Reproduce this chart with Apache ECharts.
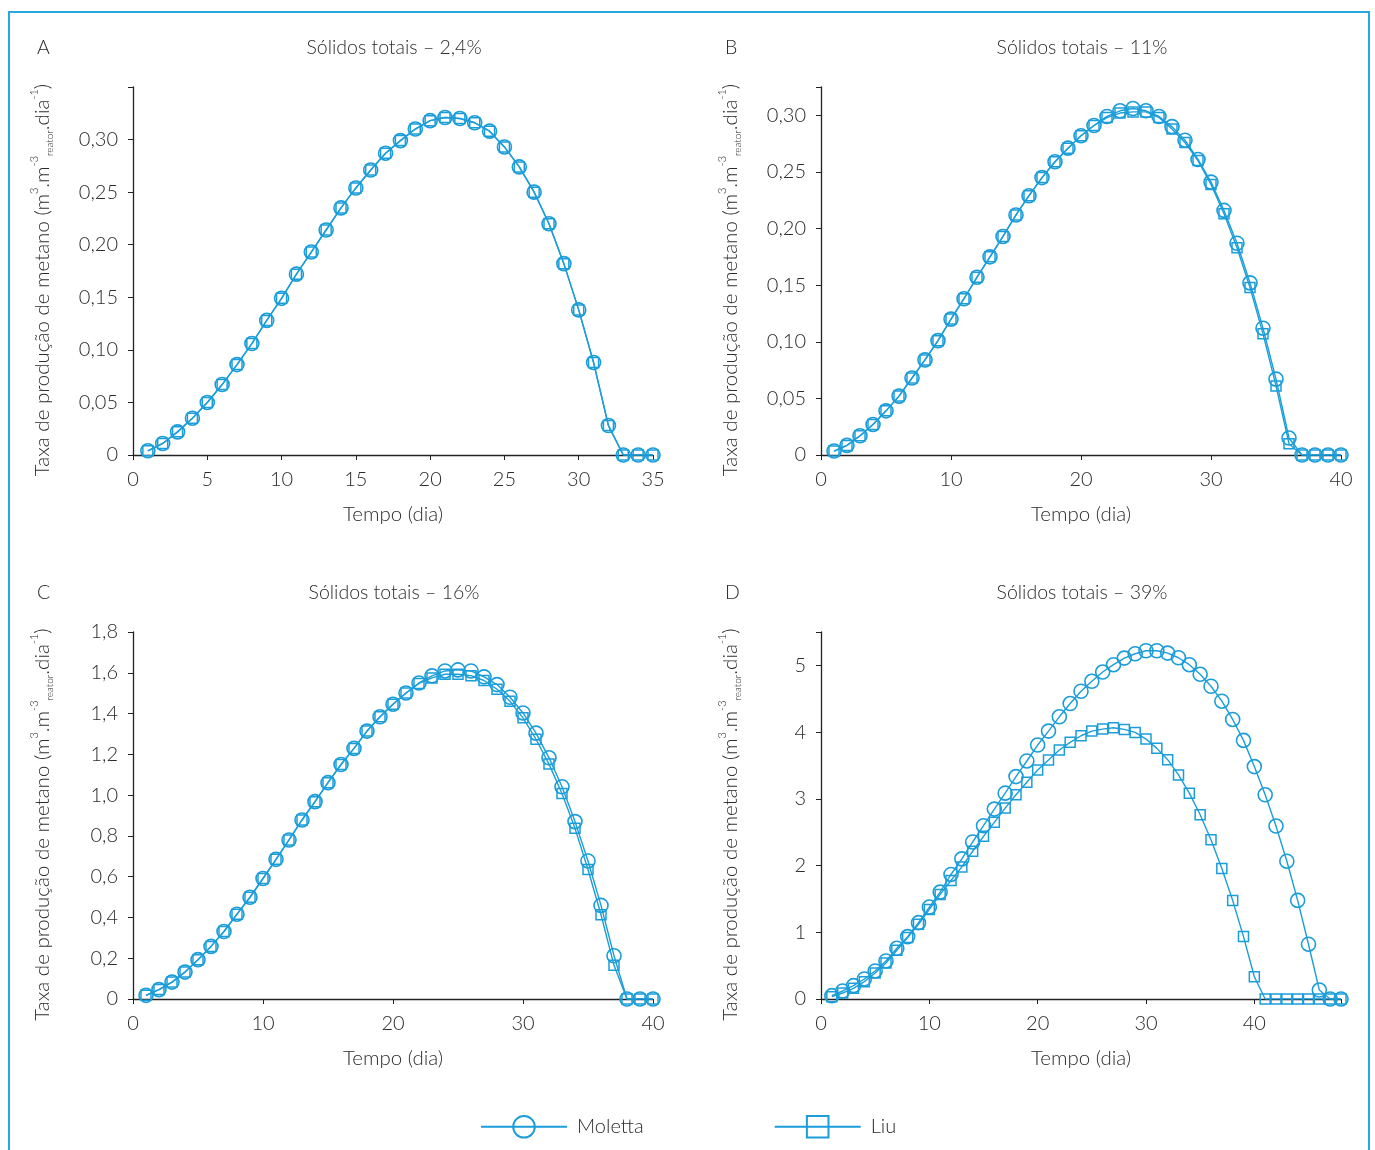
<!DOCTYPE html>
<html>
<head>
<meta charset="utf-8">
<script src="https://cdn.jsdelivr.net/npm/echarts@6/dist/echarts.min.js"></script>
<style>
html,body{margin:0;padding:0;background:#fff;}
#chart{width:1375px;height:1150px;}
</style>
</head>
<body>
<div id="chart"></div>
<script>
// ---------- DATA ----------
const daysA = [1,2,3,4,5,6,7,8,9,10,11,12,13,14,15,16,17,18,19,20,21,22,23,24,25,26,27,28,29,30,31,32,33,34,35];
const molettaA = [0.004,0.011,0.022,0.035,0.050,0.067,0.086,0.106,0.128,0.149,0.172,0.193,0.214,0.235,0.254,0.271,0.287,0.299,0.310,0.318,0.321,0.320,0.316,0.308,0.293,0.274,0.250,0.220,0.182,0.138,0.088,0.028,0,0,0];
const liuA     = [0.004,0.011,0.022,0.035,0.050,0.067,0.086,0.106,0.128,0.149,0.172,0.193,0.214,0.235,0.254,0.271,0.287,0.299,0.310,0.318,0.321,0.320,0.316,0.308,0.293,0.274,0.250,0.220,0.182,0.138,0.088,0.028,0,0,0];

const daysB = [1,2,3,4,5,6,7,8,9,10,11,12,13,14,15,16,17,18,19,20,21,22,23,24,25,26,27,28,29,30,31,32,33,34,35,36,37,38,39,40];
const molettaB = [0.0035,0.0085,0.017,0.027,0.039,0.052,0.068,0.084,0.101,0.120,0.138,0.157,0.175,0.193,0.212,0.229,0.245,0.259,0.271,0.282,0.291,0.299,0.304,0.306,0.304,0.299,0.290,0.278,0.261,0.241,0.216,0.187,0.152,0.112,0.067,0.015,0,0,0,0];
const liuB     = [0.0035,0.0085,0.017,0.027,0.039,0.052,0.068,0.084,0.101,0.120,0.138,0.157,0.175,0.193,0.212,0.229,0.245,0.259,0.271,0.282,0.291,0.298,0.302,0.303,0.303,0.298,0.288,0.276,0.260,0.239,0.213,0.183,0.148,0.107,0.061,0.010,0,0,0,0];

const daysC = [1,2,3,4,5,6,7,8,9,10,11,12,13,14,15,16,17,18,19,20,21,22,23,24,25,26,27,28,29,30,31,32,33,34,35,36,37,38,39,40];
const molettaC = [0.018,0.046,0.083,0.132,0.193,0.258,0.331,0.416,0.499,0.591,0.685,0.780,0.878,0.968,1.061,1.150,1.229,1.314,1.384,1.446,1.501,1.550,1.585,1.609,1.614,1.609,1.580,1.542,1.480,1.403,1.304,1.183,1.041,0.870,0.677,0.459,0.212,0,0,0];
const liuC     = [0.018,0.046,0.083,0.132,0.193,0.258,0.331,0.416,0.499,0.591,0.685,0.780,0.878,0.968,1.061,1.150,1.229,1.314,1.384,1.446,1.501,1.548,1.575,1.593,1.593,1.586,1.562,1.519,1.460,1.379,1.274,1.152,1.008,0.837,0.635,0.413,0.165,0,0,0];

const daysD = [1,2,3,4,5,6,7,8,9,10,11,12,13,14,15,16,17,18,19,20,21,22,23,24,25,26,27,28,29,30,31,32,33,34,35,36,37,38,39,40,41,42,43,44,45,46,47,48];
const molettaD = [0.05,0.12,0.20,0.30,0.42,0.57,0.76,0.935,1.144,1.378,1.602,1.866,2.10,2.353,2.597,2.846,3.085,3.333,3.567,3.806,4.015,4.229,4.428,4.612,4.761,4.90,5.01,5.109,5.174,5.219,5.219,5.184,5.114,5.01,4.866,4.687,4.463,4.189,3.876,3.483,3.06,2.592,2.065,1.478,0.821,0.134,0,0];
const liuD     = [0.035,0.09,0.16,0.26,0.39,0.54,0.73,0.92,1.12,1.343,1.567,1.776,1.98,2.214,2.438,2.647,2.861,3.06,3.249,3.433,3.582,3.731,3.846,3.945,4.015,4.045,4.065,4.04,3.995,3.896,3.756,3.587,3.358,3.085,2.761,2.388,1.955,1.478,0.935,0.333,0,0,0,0,0,0,0,0];

const panelLetters = ['A','B','C','D'];
const panelTitles = ['Sólidos totais – 2,4%','Sólidos totais – 11%','Sólidos totais – 16%','Sólidos totais – 39%'];
const seriesNames = ['Moletta','Liu'];
const xMax = [35,40,40,48];
const xInterval = [5,10,10,10];
const xTicks = [[0,5,10,15,20,25,30,35],[0,10,20,30,40],[0,10,20,30,40],[0,10,20,30,40]];
const yMax = [0.35,0.325,1.8,5.5];
const yInterval = [0.05,0.05,0.2,1];
const yTicks = [[0,0.05,0.10,0.15,0.20,0.25,0.30],[0,0.05,0.10,0.15,0.20,0.25,0.30],[0,0.2,0.4,0.6,0.8,1.0,1.2,1.4,1.6,1.8],[0,1,2,3,4,5]];
const yDecimals = [2,2,1,0];
const xAxisName = 'Tempo (dia)';

// ---------- CHART ----------
const BLUE = '#1b9dd9';
const FONT = 'Lato';
const FW = 300;
const TXT = '#2b2b2b';
const days = [daysA,daysB,daysC,daysD];
const mol = [molettaA,molettaB,molettaC,molettaD];
const liu = [liuA,liuB,liuC,liuD];

const grids = [
  {left:133, top:87, width:520, height:368},
  {left:821, top:87, width:520, height:368},
  {left:133, top:632, width:520, height:367},
  {left:821, top:632, width:520, height:367}
];

function near(v, list){ return list.some(t => Math.abs(t - v) < 1e-6); }

const xAxes = [], yAxes = [], series = [], titles = [];
for (let i = 0; i < 4; i++) {
  const g = grids[i];
  xAxes.push({
    type:'value', gridIndex:i, min:0, max:xMax[i], interval:xInterval[i],
    name:xAxisName, nameLocation:'middle', nameGap:49,
    nameTextStyle:{fontFamily:FONT, fontWeight:FW, fontSize:20.5, color:TXT},
    axisLine:{lineStyle:{color:'#222', width:1.3}},
    axisTick:{show:true, inside:false, length:5, lineStyle:{color:'#222'}},
    axisLabel:{fontFamily:FONT, fontWeight:FW, fontSize:20, color:TXT, margin:15,
      formatter:(v)=> near(v, xTicks[i]) ? String(Math.round(v)) : ''},
    splitLine:{show:false}
  });
  yAxes.push({
    type:'value', gridIndex:i, min:0, max:yMax[i], interval:yInterval[i],
    name:'{n|Taxa de produção de metano (m}{sup|3}{n|.m}{sup|-3}{sub|reator}{n|.dia}{sup|-1}{n|)}',
    nameLocation:'middle', nameRotate:90, nameGap:78,
    nameTextStyle:{
      fontFamily:FONT, fontWeight:FW, color:TXT, fontSize:20,
      padding:[0,18,0,0],
      rich:{
        n:{fontFamily:FONT, fontWeight:FW, fontSize:20.5, color:TXT, lineHeight:26, verticalAlign:'middle'},
        sup:{fontFamily:FONT, fontWeight:FW, fontSize:11, color:TXT, lineHeight:26, verticalAlign:'top'},
        sub:{fontFamily:FONT, fontWeight:FW, fontSize:10, color:TXT, lineHeight:26, verticalAlign:'bottom'}
      }
    },
    axisLine:{show:true, lineStyle:{color:'#222', width:1.3}},
    axisTick:{show:true, inside:false, length:5, lineStyle:{color:'#222'}},
    axisLabel:{fontFamily:FONT, fontWeight:FW, fontSize:20, color:TXT, margin:15,
      formatter:(v)=> {
        if (!near(v, yTicks[i])) return '';
        if (Math.abs(v) < 1e-9) return '0';
        return v.toFixed(yDecimals[i]).replace('.', ',');
      }},
    splitLine:{show:false}
  });
  titles.push({text:panelLetters[i], left:g.left - 101, top:g.top - 54,
    textStyle:{fontFamily:FONT, fontSize:19.5, fontWeight:FW, color:TXT}});
  titles.push({text:panelTitles[i], left:g.left + g.width/2 - 4, top:g.top - 54, textAlign:'center',
    textStyle:{fontFamily:FONT, fontSize:19.5, fontWeight:FW, color:TXT}});

  series.push({
    name:seriesNames[0], type:'line', xAxisIndex:i, yAxisIndex:i,
    data: days[i].map((d,k)=>[d, mol[i][k]]),
    symbol:'circle', symbolSize:14, showAllSymbol:true, smooth:false,
    lineStyle:{color:BLUE, width:1.4},
    itemStyle:{color:'rgba(255,255,255,0)', borderColor:BLUE, borderWidth:1.6},
    emphasis:{disabled:true}, animation:false, z:3
  });
  series.push({
    name:seriesNames[1], type:'line', xAxisIndex:i, yAxisIndex:i,
    data: days[i].map((d,k)=>[d, liu[i][k]]),
    symbol:'rect', symbolSize:10, showAllSymbol:true, smooth:false,
    lineStyle:{color:BLUE, width:1.4},
    itemStyle:{color:'rgba(255,255,255,0)', borderColor:BLUE, borderWidth:1.5},
    emphasis:{disabled:true}, animation:false, z:2
  });
}

const chart = echarts.init(document.getElementById('chart'), null, {renderer:'canvas'});
chart.setOption({
  backgroundColor:'#fff',
  animation:false,
  title:titles,
  grid:grids,
  xAxis:xAxes,
  yAxis:yAxes,
  legend:{
    data:seriesNames, left:475, top:1110, itemWidth:86, itemHeight:27, itemGap:130,
    textStyle:{fontFamily:FONT, fontWeight:FW, fontSize:20, color:TXT, padding:[0,0,0,5]},
    selectedMode:false
  },
  graphic:[{
    type:'rect', silent:true,
    shape:{x:9, y:12, width:1360, height:1160},
    style:{fill:'none', stroke:'#2aa7df', lineWidth:2}
  }],
  series:series
});
</script>
</body>
</html>
